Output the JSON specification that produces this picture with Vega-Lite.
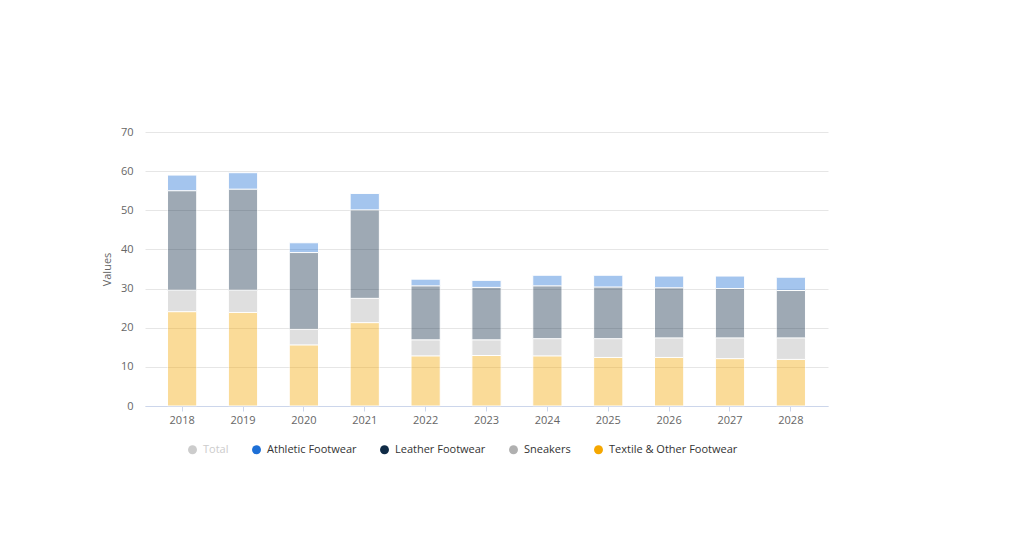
{
  "$schema": "https://vega.github.io/schema/vega-lite/v6.json",
  "width": 683,
  "height": 274,
  "autosize": {"type": "none"},
  "padding": {"left": 145, "top": 132, "right": 196, "bottom": 138},
  "background": "white",
  "config": {
    "font": "Open Sans",
    "view": {"stroke": null}
  },
  "data": {
    "values": [
      {"year": "2018", "series": "Textile & Other Footwear", "k": 1, "value": 24.1},
      {"year": "2018", "series": "Sneakers", "k": 2, "value": 5.5},
      {"year": "2018", "series": "Leather Footwear", "k": 3, "value": 25.4},
      {"year": "2018", "series": "Athletic Footwear", "k": 4, "value": 4.0},
      {"year": "2019", "series": "Textile & Other Footwear", "k": 1, "value": 23.9},
      {"year": "2019", "series": "Sneakers", "k": 2, "value": 5.7},
      {"year": "2019", "series": "Leather Footwear", "k": 3, "value": 25.8},
      {"year": "2019", "series": "Athletic Footwear", "k": 4, "value": 4.2},
      {"year": "2020", "series": "Textile & Other Footwear", "k": 1, "value": 15.6},
      {"year": "2020", "series": "Sneakers", "k": 2, "value": 4.0},
      {"year": "2020", "series": "Leather Footwear", "k": 3, "value": 19.6},
      {"year": "2020", "series": "Athletic Footwear", "k": 4, "value": 2.5},
      {"year": "2021", "series": "Textile & Other Footwear", "k": 1, "value": 21.3},
      {"year": "2021", "series": "Sneakers", "k": 2, "value": 6.2},
      {"year": "2021", "series": "Leather Footwear", "k": 3, "value": 22.6},
      {"year": "2021", "series": "Athletic Footwear", "k": 4, "value": 4.2},
      {"year": "2022", "series": "Textile & Other Footwear", "k": 1, "value": 12.8},
      {"year": "2022", "series": "Sneakers", "k": 2, "value": 4.1},
      {"year": "2022", "series": "Leather Footwear", "k": 3, "value": 13.8},
      {"year": "2022", "series": "Athletic Footwear", "k": 4, "value": 1.7},
      {"year": "2023", "series": "Textile & Other Footwear", "k": 1, "value": 12.9},
      {"year": "2023", "series": "Sneakers", "k": 2, "value": 4.0},
      {"year": "2023", "series": "Leather Footwear", "k": 3, "value": 13.4},
      {"year": "2023", "series": "Athletic Footwear", "k": 4, "value": 1.8},
      {"year": "2024", "series": "Textile & Other Footwear", "k": 1, "value": 12.8},
      {"year": "2024", "series": "Sneakers", "k": 2, "value": 4.4},
      {"year": "2024", "series": "Leather Footwear", "k": 3, "value": 13.5},
      {"year": "2024", "series": "Athletic Footwear", "k": 4, "value": 2.7},
      {"year": "2025", "series": "Textile & Other Footwear", "k": 1, "value": 12.4},
      {"year": "2025", "series": "Sneakers", "k": 2, "value": 4.8},
      {"year": "2025", "series": "Leather Footwear", "k": 3, "value": 13.2},
      {"year": "2025", "series": "Athletic Footwear", "k": 4, "value": 3.0},
      {"year": "2026", "series": "Textile & Other Footwear", "k": 1, "value": 12.4},
      {"year": "2026", "series": "Sneakers", "k": 2, "value": 5.0},
      {"year": "2026", "series": "Leather Footwear", "k": 3, "value": 12.8},
      {"year": "2026", "series": "Athletic Footwear", "k": 4, "value": 3.0},
      {"year": "2027", "series": "Textile & Other Footwear", "k": 1, "value": 12.1},
      {"year": "2027", "series": "Sneakers", "k": 2, "value": 5.3},
      {"year": "2027", "series": "Leather Footwear", "k": 3, "value": 12.6},
      {"year": "2027", "series": "Athletic Footwear", "k": 4, "value": 3.2},
      {"year": "2028", "series": "Textile & Other Footwear", "k": 1, "value": 11.9},
      {"year": "2028", "series": "Sneakers", "k": 2, "value": 5.5},
      {"year": "2028", "series": "Leather Footwear", "k": 3, "value": 12.1},
      {"year": "2028", "series": "Athletic Footwear", "k": 4, "value": 3.4}
    ]
  },
  "mark": {"type": "bar", "opacity": 0.4, "stroke": "white", "strokeWidth": 1},
  "encoding": {
    "x": {
      "field": "year", "type": "ordinal",
      "scale": {"paddingInner": 0.52, "paddingOuter": 0.37},
      "axis": {
        "title": null, "labelAngle": 0, "grid": false,
        "domainColor": "#ccd6eb", "tickColor": "#ccd6eb", "tickSize": 5,
        "labelColor": "#666666", "labelFontSize": 11, "labelPadding": 3
      }
    },
    "y": {
      "field": "value", "type": "quantitative", "stack": "zero",
      "scale": {"domain": [0, 70], "nice": false},
      "axis": {
        "title": "Values", "values": [0, 10, 20, 30, 40, 50, 60, 70],
        "grid": true, "gridColor": "#e6e6e6", "domain": false, "ticks": false,
        "labelColor": "#666666", "labelFontSize": 11, "labelPadding": 12,
        "titleColor": "#666666", "titleFontSize": 11, "titleFontWeight": "normal", "titlePadding": 8
      }
    },
    "color": {
      "field": "series", "type": "nominal",
      "scale": {
        "domain": ["Total", "Athletic Footwear", "Leather Footwear", "Sneakers", "Textile & Other Footwear"],
        "range": ["#cccccc", "#1d6fd6", "#0f2b46", "#b0b0b0", "#f5a700"]
      },
      "legend": {
        "title": null, "orient": "none", "legendX": 42, "legendY": 312,
        "direction": "horizontal", "symbolType": "circle", "symbolSize": 80,
        "symbolStrokeWidth": 0, "symbolOpacity": 1,
        "labelFontSize": 11,
        "labelColor": {"expr": "datum.label == 'Total' ? '#cccccc' : '#333333'"},
        "columnPadding": 22, "labelOffset": 5
      }
    },
    "order": {"field": "k", "type": "quantitative"}
  }
}
